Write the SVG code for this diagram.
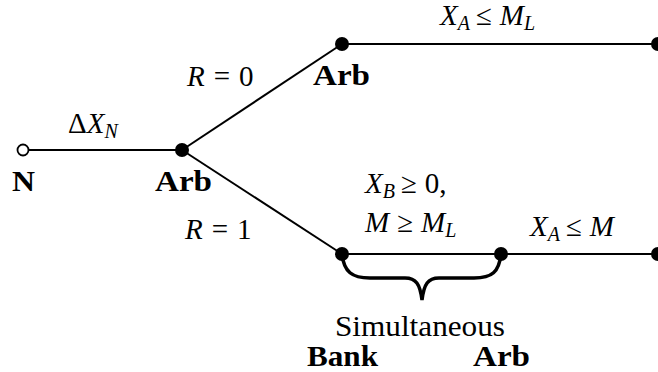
<svg xmlns="http://www.w3.org/2000/svg" width="658" height="372" viewBox="0 0 658 372">
<style>
.e{stroke:#000;stroke-width:2;fill:none}
.d{fill:#000}
text{font-family:'Liberation Serif','DejaVu Serif',serif;font-size:29px;fill:#000}
.i{font-style:italic}
.b{font-weight:bold}
.s{font-size:20px}
</style>
<rect width="658" height="372" fill="#fff"/>
<g id="connectors">
<line class="e" x1="28" y1="150" x2="182" y2="150"/>
<line class="e" x1="182" y1="150" x2="342" y2="44"/>
<line class="e" x1="342" y1="44" x2="658" y2="44"/>
<line class="e" x1="182" y1="150" x2="342" y2="254"/>
<line class="e" x1="342" y1="254" x2="658" y2="254"/>
<path d="M342,254 C344,272 352,278 370,278 L405,278 C416,278 420,284 422,300 C424,284 428,278 439,278 L474,278 C492,278 499,272 501,254" fill="none" stroke="#000" stroke-width="3.5"/>
</g>
<g id="n-N"><circle cx="23" cy="150" r="5.5" fill="#fff" stroke="#000" stroke-width="1.8"/><text class="b" x="12" y="191" textLength="23" lengthAdjust="spacingAndGlyphs">N</text></g>
<g id="n-arb1"><circle class="d" cx="182" cy="150" r="7"/><text class="b" x="155" y="191" textLength="57" lengthAdjust="spacingAndGlyphs">Arb</text></g>
<g id="n-arb2"><circle class="d" cx="342" cy="44" r="7"/><text class="b" x="313" y="85" textLength="57" lengthAdjust="spacingAndGlyphs">Arb</text></g>
<g id="n-end1"><circle class="d" cx="658" cy="44" r="7"/></g>
<g id="n-bank"><circle class="d" cx="342" cy="254" r="7"/></g>
<g id="n-arb3"><circle class="d" cx="501" cy="254" r="7"/></g>
<g id="n-end2"><circle class="d" cx="658" cy="254" r="7"/></g>
<g id="labels">
<text x="68" y="133">Δ<tspan class="i">X</tspan><tspan class="i s" dy="5">N</tspan></text>
<text x="187" y="86"><tspan class="i">R</tspan><tspan dx="9">=</tspan><tspan dx="9">0</tspan></text>
<text x="185" y="239"><tspan class="i">R</tspan><tspan dx="9">=</tspan><tspan dx="9">1</tspan></text>
<text x="440" y="25"><tspan class="i">X</tspan><tspan class="i s" dy="5">A</tspan><tspan dy="-5" dx="6">≤</tspan><tspan class="i" dx="8">M</tspan><tspan class="i s" dy="5">L</tspan></text>
<text x="365" y="193"><tspan class="i">X</tspan><tspan class="i s" dy="5">B</tspan><tspan dy="-5" dx="6">≥</tspan><tspan dx="8">0,</tspan></text>
<text x="365" y="232"><tspan class="i">M</tspan><tspan dx="8">≥</tspan><tspan class="i" dx="8">M</tspan><tspan class="i s" dy="5">L</tspan></text>
<text x="530" y="236"><tspan class="i">X</tspan><tspan class="i s" dy="5">A</tspan><tspan dy="-5" dx="6">≤</tspan><tspan class="i" dx="8">M</tspan></text>
<text x="335" y="336" font-size="26" textLength="170" lengthAdjust="spacingAndGlyphs">Simultaneous</text>
<text class="b" x="307" y="366" textLength="71" lengthAdjust="spacingAndGlyphs">Bank</text>
<text class="b" x="473" y="366" textLength="57" lengthAdjust="spacingAndGlyphs">Arb</text>
</g>
</svg>
